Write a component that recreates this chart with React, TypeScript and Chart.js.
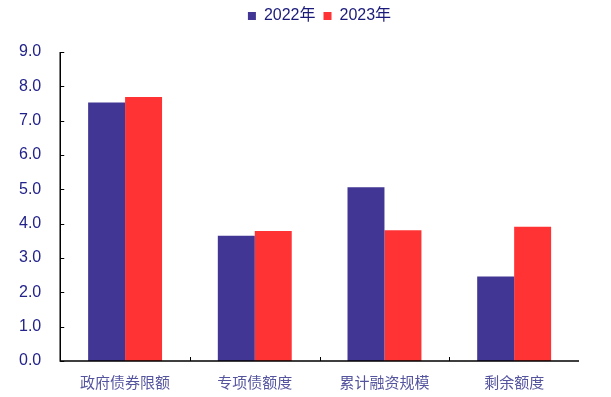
import React, { useEffect, useRef } from "react";
import { Chart, registerables } from "chart.js";

Chart.register(...registerables);

const categories = ["政府债券限额", "专项债额度", "累计融资规模", "剩余额度"];
const series2022 = [7.53, 3.65, 5.06, 2.46];
const series2023 = [7.69, 3.79, 3.81, 3.91];
const seriesNames = ["2022年", "2023年"];
const yMax = 9;

const legendSpace = {
  id: "legendSpace",
  beforeInit(chart: any) {
    const lg = chart.legend;
    const origFit = lg.fit;
    lg.fit = function () {
      origFit.call(this);
      this.height += 18;
    };
    const origDraw = lg.draw;
    lg.draw = function (...args: any[]) {
      const ctx = this.ctx;
      ctx.save();
      ctx.translate(30, 0);
      origDraw.apply(this, args);
      ctx.restore();
    };
  },
};

const innerTicks = {
  id: "innerTicks",
  afterDatasetsDraw(chart: any) {
    const { ctx, scales } = chart;
    const x = scales.x;
    const y = scales.y;
    ctx.save();
    ctx.strokeStyle = "#000";
    ctx.lineWidth = 1;
    y.ticks.forEach((t: any) => {
      const py = Math.round(y.getPixelForValue(t.value)) + 0.5;
      ctx.beginPath();
      ctx.moveTo(x.left, py);
      ctx.lineTo(x.left + 4, py);
      ctx.stroke();
    });
    const n = categories.length;
    const w = (x.right - x.left) / n;
    for (let i = 1; i < n; i++) {
      const px = Math.round(x.getPixelForValue(i) - w / 2) + 0.5;
      ctx.beginPath();
      ctx.moveTo(px, y.bottom);
      ctx.lineTo(px, y.bottom - 4);
      ctx.stroke();
    }
    ctx.lineWidth = 1.5;
    ctx.beginPath();
    ctx.moveTo(x.left, y.top);
    ctx.lineTo(x.left, y.bottom);
    ctx.lineTo(x.right, y.bottom);
    ctx.stroke();
    ctx.restore();
  },
};

export default function App() {
  const ref = useRef<HTMLCanvasElement | null>(null);
  useEffect(() => {
    document.body.style.margin = "0";
    const chart = new Chart(ref.current!, {
      type: "bar",
      data: {
        labels: categories,
        datasets: [
          {
            label: seriesNames[0],
            data: series2022,
            backgroundColor: "#413694",
            borderWidth: 0,
            categoryPercentage: 0.57,
            barPercentage: 1,
          },
          {
            label: seriesNames[1],
            data: series2023,
            backgroundColor: "#FF3333",
            borderWidth: 0,
            categoryPercentage: 0.57,
            barPercentage: 1,
          },
        ],
      },
      options: {
        animation: false,
        responsive: false,
        maintainAspectRatio: false,
        layout: { padding: { left: 0, right: 32, top: 0, bottom: -6 } },
        plugins: {
          legend: {
            position: "top",
            labels: {
              boxWidth: 8,
              boxHeight: 8,
              padding: 8,
              color: "#1a1a7a",
              font: { family: "Liberation Sans, Noto Sans CJK SC", size: 16 },
            },
          },
          tooltip: { enabled: false },
        },
        scales: {
          x: {
            grid: { display: false, drawTicks: false },
            border: { display: false },
            ticks: {
              color: "#55559f",
              padding: 12,
              font: { family: "Noto Sans CJK SC", size: 15 },
            },
          },
          y: {
            min: 0,
            max: yMax,
            grid: { display: false, drawTicks: false },
            border: { display: false },
            ticks: {
              stepSize: 1,
              color: "#22228a",
              padding: 19,
              font: { family: "Liberation Sans", size: 16 },
              callback: (v: any) => Number(v).toFixed(1),
            },
          },
        },
      },
      plugins: [legendSpace, innerTicks],
    });
    return () => chart.destroy();
  }, []);
  return (
    <div style={{ width: 611, height: 397 }}>
      <canvas ref={ref} width={611} height={397} style={{ display: "block" }} />
    </div>
  );
}
